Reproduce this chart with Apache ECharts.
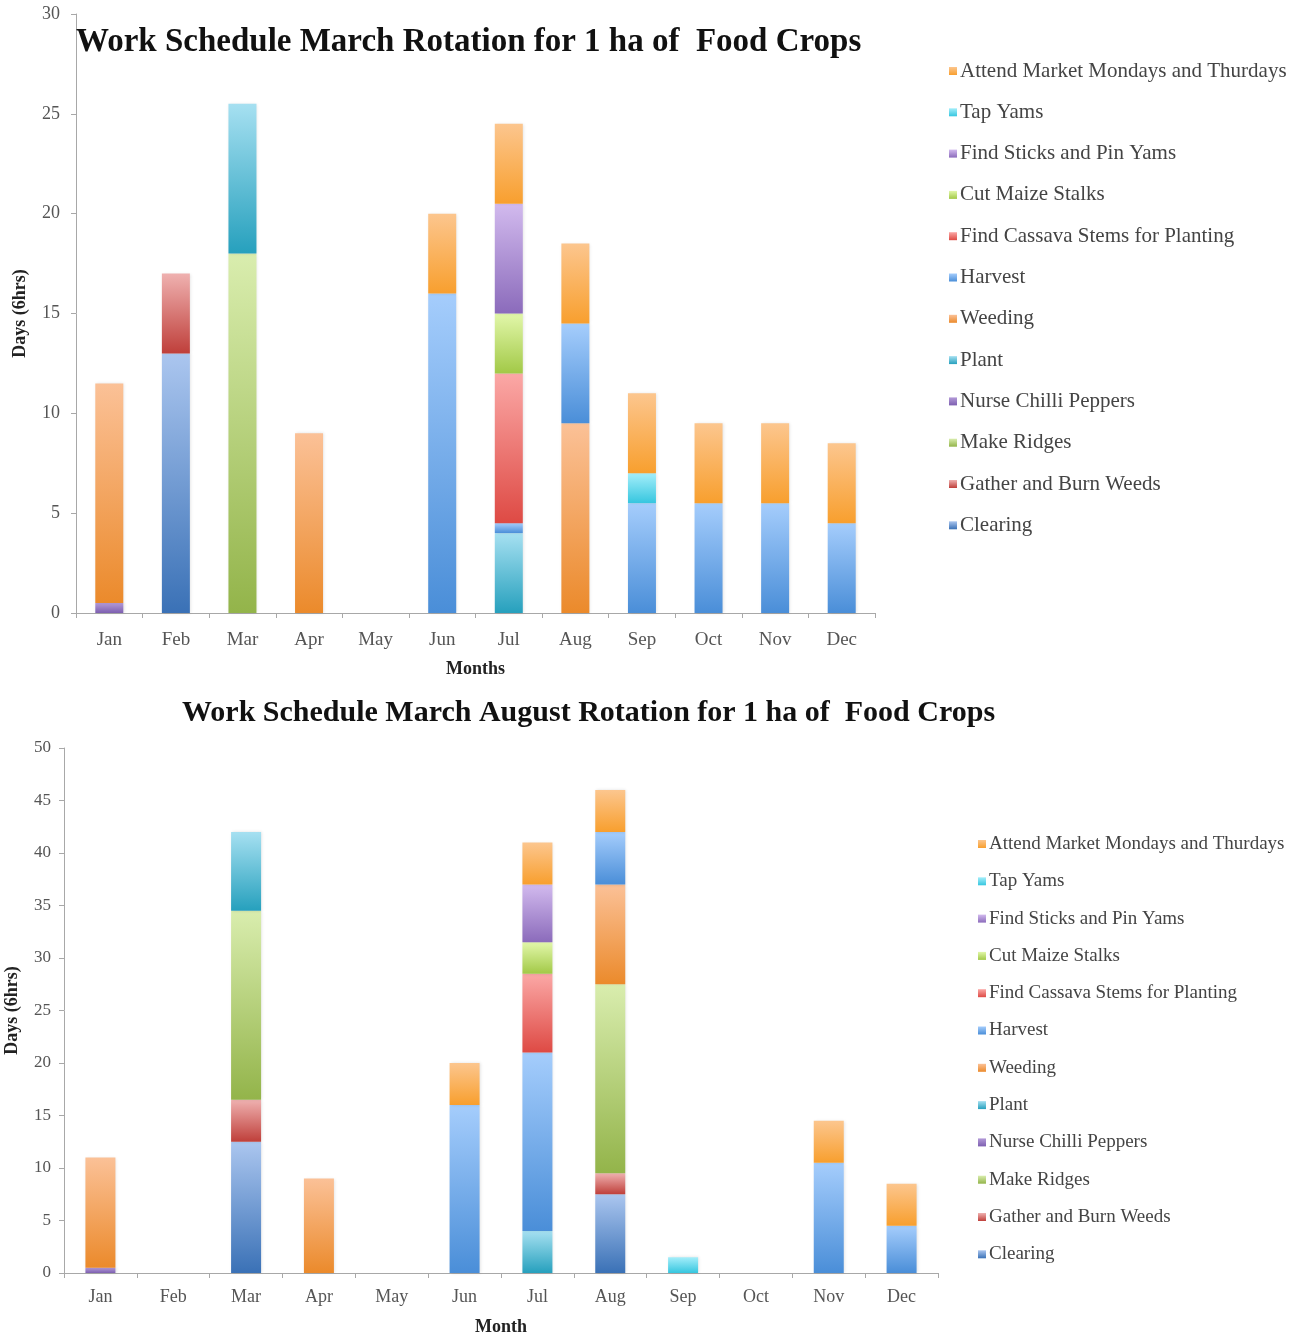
<!DOCTYPE html>
<html>
<head>
<meta charset="utf-8">
<title>Work Schedule for 1 ha of Food Crops</title>
<script src="https://cdn.jsdelivr.net/npm/echarts@6/dist/echarts.min.js"></script>
<style>
  html, body { margin: 0; padding: 0; background: #ffffff; }
  #chart { width: 1299px; height: 1338px; }
</style>
</head>
<body>
<div id="chart"></div>
<script>
// Months on the category axis
const months = ['Jan', 'Feb', 'Mar', 'Apr', 'May', 'Jun', 'Jul', 'Aug', 'Sep', 'Oct', 'Nov', 'Dec'];

// Tasks, in stacking order (bottom to top)
const tasks = [
  'Clearing', 'Gather and Burn Weeds', 'Make Ridges', 'Nurse Chilli Peppers', 'Plant',
  'Weeding', 'Harvest', 'Find Cassava Stems for Planting', 'Cut Maize Stalks',
  'Find Sticks and Pin Yams', 'Tap Yams', 'Attend Market Mondays and Thurdays'
];

// March rotation: days (6 hrs) per task per month
const marClearing = [0, 13, 0, 0, 0, 0, 0, 0, 0, 0, 0, 0];
const marGather   = [0, 4, 0, 0, 0, 0, 0, 0, 0, 0, 0, 0];
const marRidges   = [0, 0, 18, 0, 0, 0, 0, 0, 0, 0, 0, 0];
const marChilli   = [0.5, 0, 0, 0, 0, 0, 0, 0, 0, 0, 0, 0];
const marPlant    = [0, 0, 7.5, 0, 0, 0, 4, 0, 0, 0, 0, 0];
const marWeeding  = [11, 0, 0, 9, 0, 0, 0, 9.5, 0, 0, 0, 0];
const marHarvest  = [0, 0, 0, 0, 0, 16, 0.5, 5, 5.5, 5.5, 5.5, 4.5];
const marCassava  = [0, 0, 0, 0, 0, 0, 7.5, 0, 0, 0, 0, 0];
const marMaize    = [0, 0, 0, 0, 0, 0, 3, 0, 0, 0, 0, 0];
const marSticks   = [0, 0, 0, 0, 0, 0, 5.5, 0, 0, 0, 0, 0];
const marTapYams  = [0, 0, 0, 0, 0, 0, 0, 0, 1.5, 0, 0, 0];
const marMarket   = [0, 0, 0, 0, 0, 4, 4, 4, 4, 4, 4, 4];

// March–August rotation: days (6 hrs) per task per month
const augClearing = [0, 0, 12.5, 0, 0, 0, 0, 7.5, 0, 0, 0, 0];
const augGather   = [0, 0, 4, 0, 0, 0, 0, 2, 0, 0, 0, 0];
const augRidges   = [0, 0, 18, 0, 0, 0, 0, 18, 0, 0, 0, 0];
const augChilli   = [0.5, 0, 0, 0, 0, 0, 0, 0, 0, 0, 0, 0];
const augPlant    = [0, 0, 7.5, 0, 0, 0, 4, 0, 0, 0, 0, 0];
const augWeeding  = [10.5, 0, 0, 9, 0, 0, 0, 9.5, 0, 0, 0, 0];
const augHarvest  = [0, 0, 0, 0, 0, 16, 17, 5, 0, 0, 10.5, 4.5];
const augCassava  = [0, 0, 0, 0, 0, 0, 7.5, 0, 0, 0, 0, 0];
const augMaize    = [0, 0, 0, 0, 0, 0, 3, 0, 0, 0, 0, 0];
const augSticks   = [0, 0, 0, 0, 0, 0, 5.5, 0, 0, 0, 0, 0];
const augTapYams  = [0, 0, 0, 0, 0, 0, 0, 0, 1.5, 0, 0, 0];
const augMarket   = [0, 0, 0, 0, 0, 4, 4, 4, 0, 0, 4, 4];

// Y axis ranges
const yTop = { min: 0, max: 30, interval: 5 };
const yBottom = { min: 0, max: 50, interval: 5 };

const marchData = [marClearing, marGather, marRidges, marChilli, marPlant, marWeeding,
  marHarvest, marCassava, marMaize, marSticks, marTapYams, marMarket];
const augustData = [augClearing, augGather, augRidges, augChilli, augPlant, augWeeding,
  augHarvest, augCassava, augMaize, augSticks, augTapYams, augMarket];

// Light (top) and dark (bottom) ends of each task's vertical gradient
const shades = [
  ['#abc6ef', '#3a71b6'], // Clearing
  ['#efb1b0', '#bf3f3a'], // Gather and Burn Weeds
  ['#d9edae', '#93b44a'], // Make Ridges
  ['#b39ad8', '#7d5fb0'], // Nurse Chilli Peppers
  ['#a6e0f1', '#26a0bd'], // Plant
  ['#fbc197', '#eb8a2b'], // Weeding
  ['#a5cdfc', '#4a8ed8'], // Harvest
  ['#fba8a6', '#de4a44'], // Find Cassava Stems
  ['#e2f7aa', '#a2c947'], // Cut Maize Stalks
  ['#d2baee', '#8b6bbb'], // Find Sticks and Pin Yams
  ['#a4eefa', '#36c6df'], // Tap Yams
  ['#fcc68e', '#f89f2e']  // Attend Market
];

const FONT = "'Liberation Serif', 'DejaVu Serif', serif";

function grad(pair) {
  return {
    type: 'linear', x: 0, y: 0, x2: 0, y2: 1,
    colorStops: [{ offset: 0, color: pair[0] }, { offset: 1, color: pair[1] }]
  };
}

function buildSeries(dataSet, axisIndex, barWidth) {
  return tasks.map((name, i) => ({
    name: name,
    type: 'bar',
    stack: 'total' + axisIndex,
    xAxisIndex: axisIndex,
    yAxisIndex: axisIndex,
    barWidth: barWidth,
    data: dataSet[i].map(v => (v === 0 ? null : v)),
    itemStyle: {
      color: grad(shades[i]),
      shadowColor: 'rgba(0,0,0,0.12)',
      shadowBlur: 3,
      shadowOffsetX: 1
    },
    emphasis: { disabled: true }
  }));
}

function xAxisFor(gridIndex, name, nameGap, fontSize, margin) {
  return {
    type: 'category',
    gridIndex: gridIndex,
    data: months,
    name: name,
    nameLocation: 'middle',
    nameGap: nameGap,
    nameTextStyle: { fontFamily: FONT, fontWeight: 'bold', fontSize: 18, color: '#222' },
    axisLine: { lineStyle: { color: '#a8a8a8', width: 1 } },
    axisTick: { show: true, length: 5, lineStyle: { color: '#a8a8a8' } },
    axisLabel: { fontFamily: FONT, fontSize: fontSize, color: '#555', margin: margin },
    splitLine: { show: false }
  };
}

function yAxisFor(gridIndex, range, nameGap, margin, fontSize) {
  return {
    type: 'value',
    gridIndex: gridIndex,
    min: range.min,
    max: range.max,
    interval: range.interval,
    name: 'Days (6hrs)',
    nameLocation: 'middle',
    nameGap: nameGap,
    nameRotate: 90,
    nameTextStyle: { fontFamily: FONT, fontWeight: 'bold', fontSize: 18, color: '#222' },
    axisLine: { show: true, lineStyle: { color: '#a8a8a8', width: 1 } },
    axisTick: { show: true, length: 5, lineStyle: { color: '#a8a8a8' } },
    axisLabel: { fontFamily: FONT, fontSize: fontSize, color: '#555', margin: margin },
    splitLine: { show: false }
  };
}

function legendFor(left, top, fontSize, lineHeight, gap) {
  return {
    orient: 'vertical',
    left: left,
    top: top,
    data: tasks.slice().reverse(),
    icon: 'rect',
    itemWidth: 8,
    itemHeight: 8,
    itemGap: gap,
    selectedMode: false,
    textStyle: { fontFamily: FONT, fontSize: fontSize, color: '#444', lineHeight: lineHeight, padding: [0, 0, 0, -2] }
  };
}

const chart = echarts.init(document.getElementById('chart'), null, { renderer: 'canvas' });

chart.setOption({
  backgroundColor: '#ffffff',
  animation: false,
  title: [
    {
      text: 'Work Schedule March Rotation for 1 ha of  Food Crops',
      left: 71, top: 21,
      textStyle: { fontFamily: FONT, fontWeight: 'bold', fontSize: 33, color: '#111' }
    },
    {
      text: 'Work Schedule March August Rotation for 1 ha of  Food Crops',
      left: 177, top: 693,
      textStyle: { fontFamily: FONT, fontWeight: 'bold', fontSize: 30, color: '#111' }
    }
  ],
  legend: [
    legendFor(944, 55, 21, 22, 19.3),
    legendFor(973, 829, 19, 20, 17.3)
  ],
  grid: [
    { left: 76, top: 14, width: 799, height: 599, containLabel: false, outerBoundsMode: 'none' },
    { left: 64, top: 748, width: 874, height: 525, containLabel: false, outerBoundsMode: 'none' }
  ],
  xAxis: [
    xAxisFor(0, 'Months', 47, 19, 18),
    xAxisFor(1, 'Month', 45, 18, 15)
  ],
  yAxis: [
    yAxisFor(0, yTop, 47, 16, 18),
    yAxisFor(1, yBottom, 43, 13, 17)
  ],
  series: buildSeries(marchData, 0, 28).concat(buildSeries(augustData, 1, 30))
});
</script>
</body>
</html>
